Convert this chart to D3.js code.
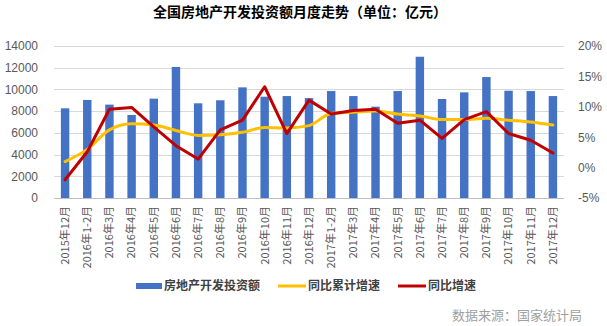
<!DOCTYPE html>
<html><head><meta charset="utf-8">
<script src="https://cdn.jsdelivr.net/npm/d3@7"></script>
<style>
body{margin:0;background:#fff;}
svg{display:block;font-family:"Microsoft YaHei","Noto Sans CJK SC",sans-serif;}
</style></head>
<body><svg id="c" width="607" height="326"></svg>
<script>
const categories = ["2015年12月","2016年1-2月","2016年3月","2016年4月","2016年5月","2016年6月","2016年7月","2016年8月","2016年9月","2016年10月","2016年11月","2016年12月","2017年1-2月","2017年3月","2017年4月","2017年5月","2017年6月","2017年7月","2017年8月","2017年9月","2017年10月","2017年11月","2017年12月"];
const investment = [8260,9030,8600,7650,9150,12070,8720,9000,10190,9330,9390,9200,9850,9390,8410,9850,13010,9120,9730,11140,9880,9850,9390];
const cumulativeGrowth = [1.0,3.0,6.2,7.2,7.0,6.1,5.3,5.4,5.8,6.6,6.5,6.9,8.9,9.1,9.3,8.8,8.5,7.9,7.9,8.1,7.8,7.5,7.0];
const monthlyGrowth = [-2.0,2.6,9.6,9.9,6.7,3.6,1.4,6.2,7.8,13.3,5.6,11.1,8.8,9.4,9.6,7.3,7.8,4.8,7.9,9.2,5.6,4.5,2.4];
const leftTicks = [0,2000,4000,6000,8000,10000,12000,14000];
const rightTicks = [-5,0,5,10,15,20];
const seriesNames = ["房地产开发投资额","同比累计增速","同比增速"];
const title = "全国房地产开发投资额月度走势（单位：亿元）";
const source = "数据来源：国家统计局";

const svg = d3.select("#c");
const x = d3.scaleBand().domain(categories).range([54,564]).paddingInner(0.62).paddingOuter(0.31);
const yL = d3.scaleLinear().domain([0,14000]).range([198,46]);
const yR = d3.scaleLinear().domain([-5,20]).range([198,46]);

svg.append("text").attr("x",300).attr("y",17).attr("text-anchor","middle")
  .attr("font-size",14).attr("font-weight","bold").attr("fill","#000").text(title);

// gridlines
svg.append("g").selectAll("line").data(leftTicks).join("line")
  .attr("x1",54).attr("x2",564).attr("y1",d=>Math.round(yL(d))+0.5).attr("y2",d=>Math.round(yL(d))+0.5)
  .attr("stroke",d=>d===0?"#bfbfbf":"#d9d9d9").attr("stroke-width",1);

// left axis labels
const axL = svg.append("g").attr("transform","translate(40,0)")
  .call(d3.axisLeft(yL).tickValues(leftTicks).tickSize(0).tickPadding(2).tickFormat(d=>d));
axL.select(".domain").remove();
axL.selectAll("text").attr("font-size",12).attr("fill","#595959").attr("font-family",null);

// right axis labels
const axR = svg.append("g").attr("transform","translate(576,0)")
  .call(d3.axisRight(yR).tickValues(rightTicks).tickSize(0).tickPadding(2).tickFormat(d=>d+"%"));
axR.select(".domain").remove();
axR.selectAll("text").attr("font-size",12).attr("fill","#595959").attr("font-family",null);

// bars
svg.append("g").selectAll("rect").data(investment).join("rect")
  .attr("x",(d,i)=>x(categories[i])).attr("width",x.bandwidth())
  .attr("y",d=>yL(d)).attr("height",d=>yL(0)-yL(d)).attr("fill","#4472C4");

// lines
const cx = (d,i)=>x(categories[i])+x.bandwidth()/2;
svg.append("path").datum(cumulativeGrowth)
  .attr("d",d3.line().x(cx).y(d=>yR(d)).curve(d3.curveMonotoneX))
  .attr("fill","none").attr("stroke","#FFC000").attr("stroke-width",3).attr("stroke-linejoin","round").attr("stroke-linecap","round");
svg.append("path").datum(monthlyGrowth)
  .attr("d",d3.line().x(cx).y(d=>yR(d)))
  .attr("fill","none").attr("stroke","#C00000").attr("stroke-width",3).attr("stroke-linejoin","round").attr("stroke-linecap","round");

// x labels
svg.append("g").selectAll("text").data(categories).join("text")
  .attr("transform",d=>`translate(${x(d)+x.bandwidth()/2},206) rotate(-90)`)
  .attr("text-anchor","end").attr("dy","0.35em")
  .attr("font-size",11).attr("fill","#595959").text(d=>d);

// legend
const lg = svg.append("g");
lg.append("rect").attr("x",136).attr("y",283).attr("width",26).attr("height",6).attr("fill","#4472C4");
lg.append("text").attr("x",164).attr("y",286).attr("dy","0.35em").attr("font-size",12).attr("font-weight","bold").attr("fill","#404040").text(seriesNames[0]);
lg.append("line").attr("x1",278).attr("x2",306).attr("y1",286).attr("y2",286).attr("stroke","#FFC000").attr("stroke-width",3);
lg.append("text").attr("x",308).attr("y",286).attr("dy","0.35em").attr("font-size",12).attr("font-weight","bold").attr("fill","#404040").text(seriesNames[1]);
lg.append("line").attr("x1",398).attr("x2",426).attr("y1",286).attr("y2",286).attr("stroke","#C00000").attr("stroke-width",3);
lg.append("text").attr("x",428).attr("y",286).attr("dy","0.35em").attr("font-size",12).attr("font-weight","bold").attr("fill","#404040").text(seriesNames[2]);

svg.append("text").attr("x",452).attr("y",315).attr("dy","0.35em").attr("font-size",13).attr("fill","#a0a0a0").text(source);
</script></body></html>
